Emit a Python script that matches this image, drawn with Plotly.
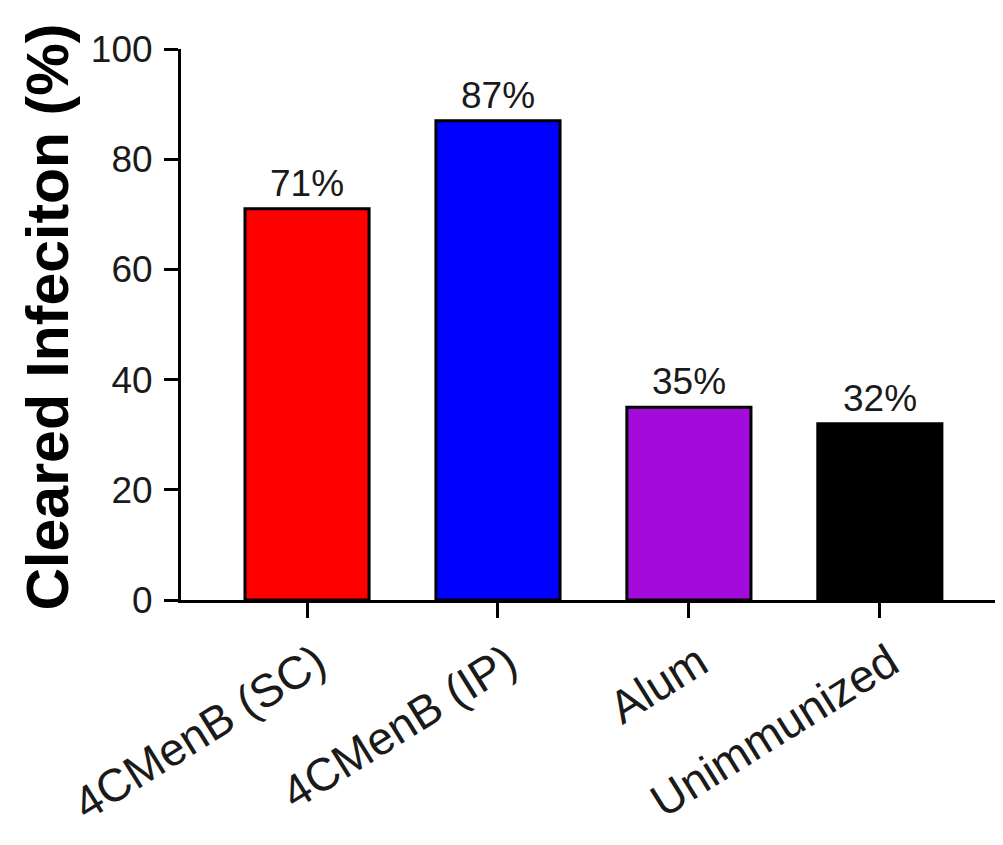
import plotly.graph_objects as go

categories = ["4CMenB (SC)", "4CMenB (IP)", "Alum", "Unimmunized"]
values = [71, 87, 35, 32]
labels = ["71%", "87%", "35%", "32%"]
colors = ["#ff0000", "#0000ff", "#a30bdb", "#000000"]
y_ticks = [0, 20, 40, 60, 80, 100]

FONT = "Liberation Sans, Arial, sans-serif"

# page body has an 8px default margin; compensate so the plot sits where the reference does
OFF = 8
PLOT_L, PLOT_T, PLOT_B = 181, 49, 600
W, H = 1003 - OFF, 845 - OFF
PLOT_W = 1003 - PLOT_L
PLOT_H = PLOT_B - PLOT_T

fig = go.Figure()
fig.add_trace(go.Bar(
    x=categories,
    y=values,
    marker=dict(color=colors, line=dict(color="#000000", width=3)),
    width=0.65,
))

annotations = [
    dict(x=c, y=v, text=t, xref="x", yref="y", showarrow=False,
         xanchor="center", yanchor="bottom", yshift=3,
         font=dict(family=FONT, size=37, color="#1a1a1a"))
    for c, v, t in zip(categories, values, labels)
]
annotations.append(dict(
    text="<b>Cleared Infeciton (%)</b>",
    textangle=-90,
    xref="paper", yref="paper",
    x=(47.5 - PLOT_L) / PLOT_W, y=(PLOT_B - 317) / PLOT_H,
    xanchor="center", yanchor="middle",
    showarrow=False,
    font=dict(family=FONT, size=59, color="#000000"),
))

fig.update_layout(
    width=W,
    height=H,
    margin=dict(l=PLOT_L - OFF, r=0, t=PLOT_T - OFF, b=H - (PLOT_B - OFF), autoexpand=False),
    paper_bgcolor="white",
    plot_bgcolor="white",
    showlegend=False,
    font=dict(family=FONT, color="#1a1a1a"),
    xaxis=dict(
        range=[-0.66, 3.645],
        showline=True, linecolor="#000000", linewidth=3,
        ticks="outside", ticklen=15, tickwidth=3, tickcolor="#000000",
        tickangle=-32,
        ticklabelshift=10,
        tickfont=dict(family=FONT, size=46, color="#1a1a1a"),
        showgrid=False, zeroline=False, automargin=False,
    ),
    yaxis=dict(
        range=[0, 100],
        tickvals=y_ticks,
        showline=True, linecolor="#000000", linewidth=3,
        ticks="outside", ticklen=14, tickwidth=3, tickcolor="#000000",
        tickfont=dict(family=FONT, size=37, color="#1a1a1a"),
        ticklabelstandoff=4,
        showgrid=False, zeroline=False, automargin=False,
    ),
    annotations=annotations,
)

fig.write_html("out.html")
